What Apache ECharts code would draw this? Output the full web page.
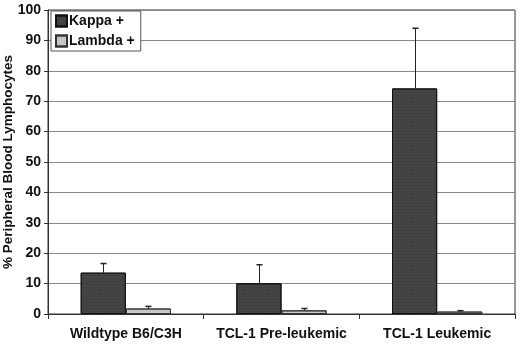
<!DOCTYPE html>
<html><head><meta charset="utf-8">
<script src="https://cdn.jsdelivr.net/npm/echarts@6/dist/echarts.min.js"></script>
<style>html,body{margin:0;padding:0;background:#fff}#c{width:520px;height:344px}</style>
</head><body><div id="c"></div>
<script>
const categories = ['Wildtype B6/C3H', 'TCL-1 Pre-leukemic', 'TCL-1 Leukemic'];
const kappa = [13.6, 10.1, 74.2];
const kappaErr = [16.6, 16.2, 94.0];
const lambda = [1.8, 1.2, 0.8];
const lambdaErr = [2.5, 1.8, 1.1];
const yTicks = [0, 10, 20, 30, 40, 50, 60, 70, 80, 90, 100];

const FONT = '"Liberation Sans", Arial, sans-serif';
const BARW = 0.29;

function errSeries(name, vals, tops, sign) {
  return {
    type: 'custom', name: name + ' err', silent: true, z: 5,
    data: vals.map((v, i) => [i, v, tops[i]]),
    renderItem: function (params, api) {
      const band = api.size([1, 0])[0];
      const off = sign * band * BARW / 2;
      const p0 = api.coord([api.value(0), api.value(1)]);
      const p1 = api.coord([api.value(0), api.value(2)]);
      const x = Math.round(p0[0] + off) + 0.5;
      return {
        type: 'group', children: [
          { type: 'line', shape: { x1: x, y1: p0[1], x2: x, y2: p1[1] }, style: { stroke: '#222', lineWidth: 1 } },
          { type: 'line', shape: { x1: x - 3, y1: p1[1], x2: x + 3, y2: p1[1] }, style: { stroke: '#222', lineWidth: 1.5 } }
        ]
      };
    }
  };
}

const chart = echarts.init(document.getElementById('c'));
chart.setOption({
  animation: false,
  textStyle: { fontFamily: FONT },
  grid: { left: 48, right: 5, top: 10, bottom: 30, containLabel: false, outerBoundsMode: 'none',
    show: true, borderColor: '#333', borderWidth: 1, backgroundColor: '#fff' },
  legend: {
    orient: 'vertical', left: 51, top: 11, padding: [3, 6, 3, 4], itemGap: 6,
    itemWidth: 11, itemHeight: 11, icon: 'rect', backgroundColor: '#fff', borderColor: '#555', borderWidth: 1,
    textStyle: { fontFamily: FONT, fontWeight: 'bold', fontSize: 14, color: '#111', padding: [0, 0, 0, -3] },
    data: ['Kappa +', 'Lambda +']
  },
  xAxis: {
    type: 'category', data: categories,
    axisLine: { lineStyle: { color: '#333' } },
    axisTick: { show: true, length: 5, lineStyle: { color: '#333' } },
    axisLabel: { fontFamily: FONT, fontWeight: 'bold', fontSize: 14, color: '#111', margin: 13, interval: 0 }
  },
  yAxis: {
    type: 'value', min: 0, max: 100, interval: 10,
    name: '% Peripheral Blood Lymphocytes', nameLocation: 'middle', nameGap: 33, nameMoveOverlap: false,
    nameTextStyle: { fontFamily: FONT, fontWeight: 'bold', fontSize: 13.5, color: '#111' },
    axisLine: { show: true, lineStyle: { color: '#333' } },
    axisTick: { show: true, length: 4, lineStyle: { color: '#333' } },
    axisLabel: { fontFamily: FONT, fontWeight: 'bold', fontSize: 14, color: '#111', margin: 7,
      formatter: v => yTicks.includes(v) ? String(v) : '' },
    splitLine: { lineStyle: { color: '#888', width: 1 } }
  },
  series: [
    { type: 'bar', name: 'Kappa +', data: kappa, barWidth: (BARW * 100) + '%', barGap: '0%',
      itemStyle: { color: '#404040', borderColor: '#111', borderWidth: 1,
        decal: { symbol: 'rect', symbolSize: 0.5, dashArrayX: [2, 1], dashArrayY: [2, 1], color: 'rgba(110,110,110,0.6)' } } },
    { type: 'bar', name: 'Lambda +', data: lambda, barWidth: (BARW * 100) + '%', barGap: '0%',
      itemStyle: { color: '#c4c4c4', borderColor: '#333', borderWidth: 1,
        decal: { symbol: 'rect', symbolSize: 0.5, dashArrayX: [2, 1], dashArrayY: [2, 1], color: 'rgba(235,235,235,0.7)' } } },
    errSeries('Kappa +', kappa, kappaErr, -1),
    errSeries('Lambda +', lambda, lambdaErr, 1)
  ]
});
</script></body></html>
